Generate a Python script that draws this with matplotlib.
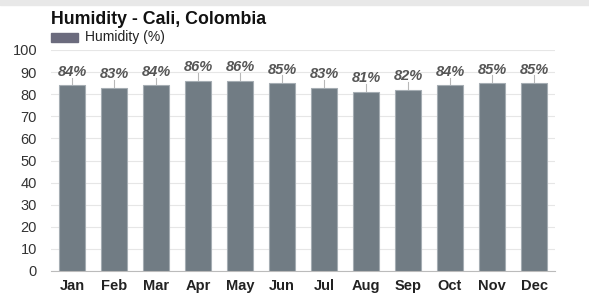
import matplotlib.pyplot as plt
from matplotlib.patches import Rectangle

months = ["Jan", "Feb", "Mar", "Apr", "May", "Jun",
          "Jul", "Aug", "Sep", "Oct", "Nov", "Dec"]
humidity = [84, 83, 84, 86, 86, 85, 83, 81, 82, 84, 85, 85]
yticks = [0, 10, 20, 30, 40, 50, 60, 70, 80, 90, 100]

plt.rcParams['font.family'] = ['Liberation Sans', 'DejaVu Sans']

fig = plt.figure(figsize=(5.89, 2.97), dpi=100)
ax = fig.add_axes([51 / 589, 26 / 297, 504 / 589, 221 / 297])

x = list(range(len(months)))
ax.bar(x, humidity, width=0.64, color="#717c84", edgecolor="#a5adb3",
       linewidth=0.8, zorder=3)

for xi, v in zip(x, humidity):
    ax.plot([xi, xi], [v, v + 3.5], color="#b8b8b8", lw=0.8, zorder=2)
    ax.text(xi, v + 3.0, f"{v}%", ha="center", va="bottom", fontsize=10.5,
            fontstyle="italic", fontweight="bold", color="#555555")

ax.set_xlim(-0.5, 11.5)
ax.set_ylim(0, 100)
ax.set_yticks(yticks)
ax.set_xticks(x)
ax.set_xticklabels(months, fontweight="bold", fontsize=10.5, color="#222222")
ax.tick_params(axis="y", labelsize=10.5, colors="#333333", length=0, pad=10)
ax.tick_params(axis="x", length=0, pad=6)
ax.grid(axis="y", color="#e6e6e6", lw=0.8, zorder=0)
for s in ["top", "right", "left"]:
    ax.spines[s].set_visible(False)
ax.spines["bottom"].set_color("#bbbbbb")

# top gray strip
fig.patches.append(Rectangle((0, 1 - 5 / 297), 1, 5 / 297, transform=fig.transFigure,
                             color="#e8e8e8", zorder=0))

fig.text(51 / 589, 1 - 19 / 297, "Humidity - Cali, Colombia", fontsize=12.8,
         fontweight="bold", va="center", color="#111111")
fig.patches.append(Rectangle((51 / 589, 1 - 42 / 297), 27 / 589, 9 / 297,
                             transform=fig.transFigure, color="#6b6b7d"))
fig.text(85 / 589, 1 - 37.5 / 297, "Humidity (%)", fontsize=10, va="center",
         color="#222222")

fig.savefig("out.png", dpi=100)
